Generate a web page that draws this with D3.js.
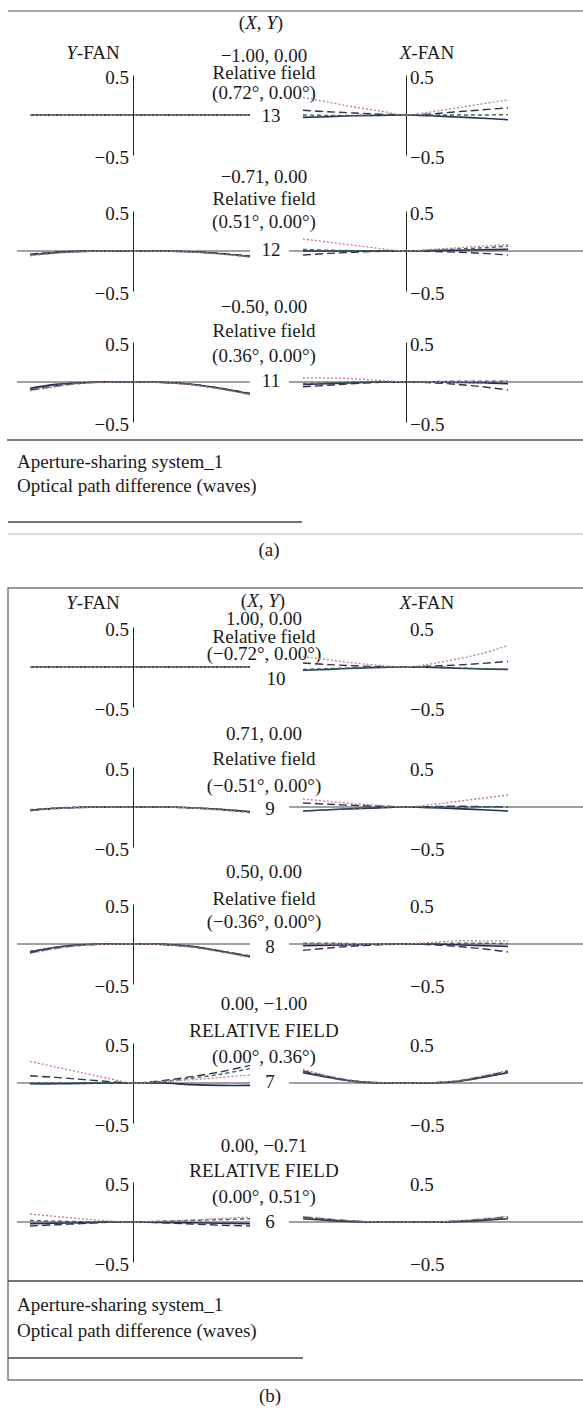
<!DOCTYPE html>
<html>
<head>
<meta charset="utf-8">
<script src="https://cdn.jsdelivr.net/npm/d3@7"></script>
<style>
  body { margin: 0; background: #fff; }
  svg text { font-family: "Liberation Serif", "Times New Roman", serif; fill: #1a1a1a; }
</style>
</head>
<body>
<svg id="chart" width="583" height="1408"></svg>
<script>
// pupil coordinate (normalised) for every fan
var pupil = [-1, -0.75, -0.5, -0.25, 0, 0.25, 0.5, 0.75, 1];
// series order: solid, long dash, dash, dotted
var waveNames = ["w1", "w2", "w3", "w4"];

var fieldNum = ["13", "12", "11", "10", "9", "8", "7", "6"];
var fieldXY = ["\u22121.00, 0.00", "\u22120.71, 0.00", "\u22120.50, 0.00",
               "1.00, 0.00", "0.71, 0.00", "0.50, 0.00",
               "0.00, \u22121.00", "0.00, \u22120.71"];
var fieldName = ["Relative field", "Relative field", "Relative field",
                 "Relative field", "Relative field", "Relative field",
                 "RELATIVE FIELD", "RELATIVE FIELD"];
var fieldDeg = ["(0.72\u00b0, 0.00\u00b0)", "(0.51\u00b0, 0.00\u00b0)", "(0.36\u00b0, 0.00\u00b0)",
                "(\u22120.72\u00b0, 0.00\u00b0)", "(\u22120.51\u00b0, 0.00\u00b0)", "(\u22120.36\u00b0, 0.00\u00b0)",
                "(0.00\u00b0, 0.36\u00b0)", "(0.00\u00b0, 0.51\u00b0)"];
var tickVals = [-0.5, 0.5];

// OPD (waves) - Y fan / X fan, one array per wavelength
var yFan13 = [[0,0,0,0,0,0,0,0,0],[0,0,0,0,0,0,0,0,0],[0,0,0,0,0,0,0,0,0],[0,0,0,0,0,0,0,0,0]];
var xFan13 = [[-0.03,-0.02,-0.01,-0.005,0,-0.01,-0.025,-0.04,-0.06],
              [0.06,0.04,0.025,0.01,0,0.015,0.04,0.065,0.09],
              [0,-0.005,-0.005,0,0,0,0,0,0.005],
              [0.22,0.16,0.1,0.05,0,0.04,0.09,0.14,0.19]];
var yFan12 = [[-0.05,-0.02,-0.005,0,0,0,-0.01,-0.035,-0.07],
              [-0.04,-0.015,0,0,0,0,-0.01,-0.03,-0.06],
              [-0.045,-0.02,-0.005,0,0,0,-0.012,-0.032,-0.065],
              [-0.06,-0.03,-0.01,0,0,-0.005,-0.015,-0.04,-0.075]];
var xFan12 = [[0,0,0,0,0,0.005,0.01,0.015,0.02],
              [-0.05,-0.03,-0.015,-0.005,0,-0.005,-0.015,-0.03,-0.05],
              [0.02,0.01,0.005,0,0,0.01,0.025,0.04,0.06],
              [0.15,0.11,0.07,0.03,0,0.02,0.04,0.06,0.08]];
var yFan11 = [[-0.08,-0.03,-0.01,0,0,-0.005,-0.03,-0.08,-0.15],
              [-0.1,-0.05,-0.015,0,0,-0.005,-0.03,-0.08,-0.14],
              [-0.09,-0.04,-0.012,0,0,-0.005,-0.03,-0.085,-0.15],
              [-0.11,-0.06,-0.02,-0.005,0,-0.01,-0.035,-0.09,-0.16]];
var xFan11 = [[-0.03,-0.02,-0.01,0,0,0,-0.005,-0.01,-0.02],
              [-0.06,-0.04,-0.02,-0.005,0,-0.01,-0.03,-0.06,-0.1],
              [-0.02,-0.01,0,0,0,0.005,0.01,0.01,0.01],
              [0.05,0.05,0.04,0.02,0,0,0,0.005,0.01]];
var yFan10 = [[0,0,0,0,0,0,0,0,0],[0,0,0,0,0,0,0,0,0],[0,0,0,0,0,0,0,0,0],[0,0,0,0,0,0,0,0,0]];
var xFan10 = [[-0.04,-0.03,-0.015,-0.005,0,-0.005,-0.015,-0.025,-0.03],
              [0.05,0.03,0.015,0.005,0,0.01,0.025,0.045,0.07],
              [-0.03,-0.02,-0.01,0,0,0,-0.01,-0.02,-0.03],
              [0.13,0.09,0.05,0.02,0,0.04,0.1,0.17,0.27]];
var yFan9 = [[-0.04,-0.015,-0.005,0,0,0,-0.01,-0.03,-0.06],
             [-0.045,-0.02,-0.005,0,0,0,-0.012,-0.035,-0.065],
             [-0.035,-0.012,0,0,0,0,-0.008,-0.028,-0.055],
             [-0.05,-0.022,-0.006,0,0,0,-0.014,-0.038,-0.07]];
var xFan9 = [[-0.05,-0.035,-0.02,-0.01,0,-0.01,-0.02,-0.035,-0.05],
             [0.05,0.035,0.02,0.01,0,0.005,0.01,0.005,0],
             [-0.05,-0.035,-0.02,-0.005,0,0,0,0,0],
             [0.1,0.07,0.04,0.02,0,0.03,0.07,0.11,0.15]];
var yFan8 = [[-0.1,-0.04,-0.01,0,0,-0.005,-0.03,-0.09,-0.16],
             [-0.11,-0.05,-0.015,0,0,-0.005,-0.035,-0.09,-0.15],
             [-0.09,-0.04,-0.01,0,0,0,-0.03,-0.085,-0.15],
             [-0.12,-0.06,-0.02,-0.005,0,-0.01,-0.04,-0.1,-0.17]];
var xFan8 = [[-0.02,-0.015,-0.01,0,0,0,-0.01,-0.02,-0.03],
             [-0.08,-0.05,-0.025,-0.01,0,-0.01,-0.03,-0.06,-0.1],
             [0.01,0.01,0.005,0,0,0.005,0.01,0.01,0.005],
             [0,0,0,0,0,0.02,0.04,0.04,0.04]];
var yFan7 = [[-0.01,-0.01,-0.005,0,0,0,-0.02,-0.03,-0.03],
             [0.09,0.07,0.045,0.02,0,0.03,0.08,0.14,0.22],
             [0,0,0,0,0,0.02,0.06,0.11,0.18],
             [0.27,0.2,0.13,0.06,0,0.02,0.04,0.07,0.1]];
var xFan7 = [[0.13,0.07,0.02,0,0,0,0.02,0.07,0.13],
             [0.15,0.08,0.025,0.003,0,0.003,0.025,0.08,0.15],
             [0.14,0.075,0.02,0.002,0,0.002,0.02,0.075,0.14],
             [0.17,0.09,0.03,0.005,0,0.005,0.03,0.09,0.16]];
var yFan6 = [[-0.02,-0.015,-0.01,0,0,-0.005,-0.01,-0.015,-0.02],
             [-0.05,-0.035,-0.02,-0.005,0,-0.01,-0.025,-0.04,-0.05],
             [0.02,0.01,0.005,0,0,0.01,0.02,0.03,0.04],
             [0.1,0.07,0.04,0.015,0,0.01,0.025,0.045,0.06]];
var xFan6 = [[0.04,0.02,0.005,0,0,0,0.005,0.02,0.04],
             [0.06,0.035,0.01,0,0,0,0.01,0.035,0.065],
             [0.05,0.03,0.01,0,0,0,0.01,0.03,0.05],
             [0.07,0.04,0.015,0,0,0,0.015,0.04,0.07]];

var yFans = [yFan13, yFan12, yFan11, yFan10, yFan9, yFan8, yFan7, yFan6];
var xFans = [xFan13, xFan12, xFan11, xFan10, xFan9, xFan8, xFan7, xFan6];

// ---- layout ----
var svg = d3.select("#chart");
var FS = 19;
var textX = 264;

// per row: zero line y, baselines of the three field lines and of the number
var rows = [
  {zero: 115, l1: 62,   l2: 79,   l3: 99,   num: 122,  numX: 271, zl: false, zr: false, axR: true},
  {zero: 251, l1: 183,  l2: 205,  l3: 228,  num: 256,  numX: 271, zl: true,  zr: true,  axR: true},
  {zero: 382, l1: 313,  l2: 337,  l3: 362,  num: 387,  numX: 271, zl: true,  zr: true,  axR: true},
  {zero: 667, l1: 625,  l2: 643,  l3: 660,  num: 685,  numX: 276, zl: false, zr: false, axR: false},
  {zero: 807, l1: 740,  l2: 765,  l3: 792,  num: 815,  numX: 270, zl: false, zr: true,  axR: false},
  {zero: 944, l1: 878,  l2: 905,  l3: 928,  num: 953,  numX: 270, zl: true,  zr: true,  axR: false},
  {zero: 1083, l1: 1010, l2: 1037, l3: 1063, num: 1088, numX: 270, zl: true,  zr: true,  axR: false},
  {zero: 1222, l1: 1152, l2: 1177, l3: 1203, num: 1228, numX: 270, zl: true,  zr: true,  axR: false}
];

var styles = [
  {color: "#262b5c", dash: null,  w: 1.6},
  {color: "#34354a", dash: "8,4", w: 1.4},
  {color: "#3a6a50", dash: "4,3", w: 1.4},
  {color: "#bf7a9c", dash: "2,2", w: 1.3}
];

// x scales (left Y-FAN, right X-FAN)
var xL = d3.scaleLinear().domain([-1, 0, 1]).range([30, 133, 250]);
var xR = d3.scaleLinear().domain([-1, 0, 1]).range([303, 406, 508]);

function hline(x1, x2, y, color, w) {
  svg.append("line").attr("x1", x1).attr("x2", x2).attr("y1", y).attr("y2", y)
    .attr("stroke", color).attr("stroke-width", w || 1);
}

function txt(x, y, s, anchor) {
  return svg.append("text").attr("x", x).attr("y", y)
    .attr("font-size", FS).attr("text-anchor", anchor || "middle").text(s);
}

function italicLabel(x, y, parts) {
  var t = svg.append("text").attr("x", x).attr("y", y)
    .attr("font-size", FS).attr("text-anchor", "middle");
  parts.forEach(function(p) {
    t.append("tspan").attr("font-style", p[1] ? "italic" : "normal").text(p[0]);
  });
}

// ---- frames ----
hline(8, 583, 11, "#8a8a8a", 1.5);
hline(7, 583, 440, "#555", 1.3);
hline(8, 302, 522, "#444", 1.3);
hline(8, 583, 534, "#b5b5b5", 1);
svg.append("rect").attr("x", 8).attr("y", 588).attr("width", 590).attr("height", 792)
  .attr("fill", "none").attr("stroke", "#666").attr("stroke-width", 1.3);
hline(8, 583, 1281, "#444", 1.3);
hline(8, 303, 1358, "#444", 1.3);

// headers
italicLabel(261, 29, [["(", 0], ["X", 1], [", ", 0], ["Y", 1], [")", 0]]);
italicLabel(93, 59, [["Y", 1], ["-FAN", 0]]);
italicLabel(427, 59, [["X", 1], ["-FAN", 0]]);
italicLabel(263, 607, [["(", 0], ["X", 1], [", ", 0], ["Y", 1], [")", 0]]);
italicLabel(93, 609, [["Y", 1], ["-FAN", 0]]);
italicLabel(427, 609, [["X", 1], ["-FAN", 0]]);

// footers
txt(17, 468, "Aperture-sharing system_1", "start");
txt(17, 492, "Optical path difference (waves)", "start");
txt(269, 556, "(a)");
txt(17, 1311, "Aperture-sharing system_1", "start");
txt(17, 1337, "Optical path difference (waves)", "start");
txt(270, 1402, "(b)");

var fmt = d3.format(".1f");

rows.forEach(function(r, i) {
  var y = d3.scaleLinear().domain([-0.5, 0.5]).range([r.zero + 40, r.zero - 40]);

  // field text
  txt(textX, r.l1, fieldXY[i]);
  txt(textX, r.l2, fieldName[i]);
  txt(textX, r.l3, fieldDeg[i]);
  txt(r.numX, r.num, fieldNum[i]);

  // zero lines
  if (r.zl) hline(17, 250, y(0), "#444", 1);
  if (r.zr) hline(289, 583, y(0), "#444", 1);

  // axes
  var gl = svg.append("g").attr("transform", "translate(" + xL(0) + ",0)")
    .call(d3.axisLeft(y).tickValues(tickVals).tickSize(0).tickSizeOuter(0).tickPadding(4).tickFormat(fmt));
  var gr = svg.append("g").attr("transform", "translate(" + xR(0) + ",0)")
    .call(d3.axisRight(y).tickValues(tickVals).tickSize(0).tickSizeOuter(0).tickPadding(4).tickFormat(fmt));
  [gl, gr].forEach(function(g) {
    g.attr("font-size", FS).attr("font-family", null);
    g.select(".domain").attr("stroke", "#222").attr("stroke-width", 1);
    g.selectAll("text").attr("fill", "#1a1a1a").attr("dy", "0.45em");
  });
  if (!r.axR) gr.select(".domain").remove();

  // fans
  [[yFans[i], xL], [xFans[i], xR]].forEach(function(f) {
    var line = d3.line()
      .x(function(d, k) { return f[1](pupil[k]); })
      .y(function(d) { return y(d); })
      .curve(d3.curveCatmullRom);
    svg.append("g").selectAll("path")
      .data(f[0]).enter()
      .append("path")
      .attr("class", function(d, k) { return "fan " + waveNames[k]; })
      .attr("d", line)
      .attr("fill", "none")
      .attr("stroke", function(d, k) { return styles[k].color; })
      .attr("stroke-width", function(d, k) { return styles[k].w; })
      .attr("stroke-dasharray", function(d, k) { return styles[k].dash; });
  });
});
</script>
</body>
</html>
